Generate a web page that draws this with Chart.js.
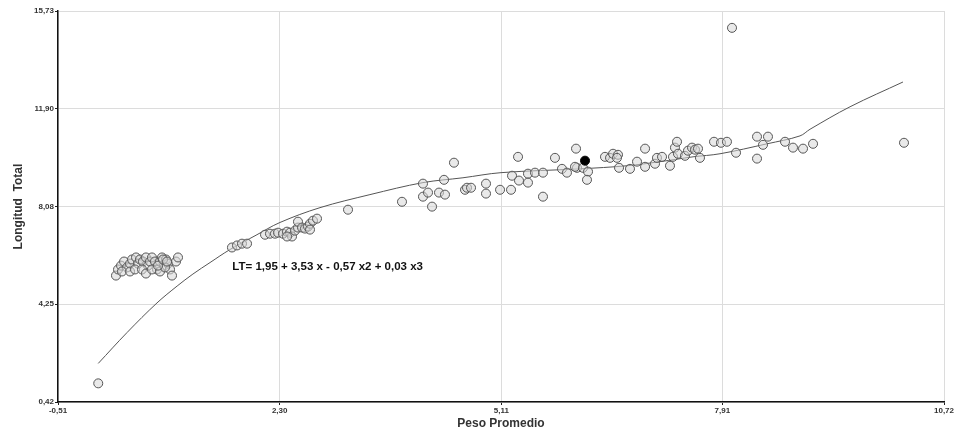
<!DOCTYPE html>
<html>
<head>
<meta charset="utf-8">
<script src="https://cdn.jsdelivr.net/npm/chart.js@4.4.1/dist/chart.umd.min.js"></script>
<style>
  html, body { margin: 0; padding: 0; background: #ffffff; }
  #wrap { width: 956px; height: 434px; }
</style>
</head>
<body>
<div id="wrap"><canvas id="grafico" width="956" height="434"></canvas></div>
<script>
// Peso promedio (x) y longitud total (y) de cada ejemplar observado
const pesoPromedio = [
  0.00,
  0.225, 0.251, 0.289, 0.327, 0.365, 0.403, 0.428, 0.479, 0.504, 0.529,
  0.567, 0.605, 0.631, 0.656, 0.681, 0.719, 0.745, 0.783, 0.808, 0.834,
  0.859, 0.884, 0.910, 0.935, 0.986, 1.011, 0.301, 0.403, 0.466, 0.555,
  0.605, 0.681, 0.783, 0.846, 0.758, 0.821, 0.872,
  1.695, 1.759, 1.822, 1.886,
  2.114, 2.177, 2.240, 2.279, 2.342, 2.393, 2.431, 2.456, 2.494, 2.532,
  2.532, 2.583, 2.621, 2.659, 2.684, 2.722, 2.773, 2.684, 2.393, 3.166,
  3.850, 4.116, 4.116, 4.180, 4.231, 4.319, 4.395, 4.383, 4.509, 4.649,
  4.674, 4.725, 4.915, 4.915, 5.093, 5.232, 5.245, 5.321, 5.333, 5.447,
  5.447, 5.536, 5.637, 5.637, 5.789, 5.878, 5.941, 6.056, 6.068,
  6.043, 6.144, 6.208, 6.195, 6.423, 6.487, 6.525, 6.588, 6.575, 6.601,
  6.740, 6.829, 6.931, 6.931, 7.057, 7.082, 7.146, 7.247, 7.285, 7.310,
  7.336, 7.348, 7.437, 7.475, 7.526, 7.564, 7.602, 7.627,
  7.805, 7.893, 7.969, 8.084, 8.350, 8.489, 8.426, 8.350, 8.705, 8.806,
  8.933, 9.060, 8.033, 10.213
];
const longitudTotal = [
  1.15,
  5.37, 5.61, 5.76, 5.92, 5.69, 5.84, 6.00, 6.08, 5.84, 6.00,
  5.92, 6.08, 5.76, 5.92, 6.08, 5.92, 5.61, 5.92, 6.08, 5.76,
  6.00, 5.84, 5.61, 5.37, 5.92, 6.08, 5.53, 5.53, 5.61, 5.61,
  5.45, 5.61, 5.53, 5.69, 5.76, 6.00, 5.92,
  6.47, 6.55, 6.62, 6.62,
  6.97, 7.01, 7.01, 7.05, 7.01, 7.09, 7.05, 6.90, 7.13, 7.25,
  7.48, 7.25, 7.21, 7.29, 7.40, 7.52, 7.60, 7.17, 6.90, 7.95,
  8.26, 8.97, 8.46, 8.62, 8.07, 8.62, 8.54, 9.12, 9.79, 8.73,
  8.81, 8.81, 8.97, 8.58, 8.73, 8.73, 9.28, 10.02, 9.09, 9.36,
  9.01, 9.40, 9.40, 8.46, 9.98, 9.55, 9.40, 10.34, 9.59,
  9.63, 9.59, 9.44, 9.12, 10.02, 9.98, 10.14, 10.10, 9.98, 9.59,
  9.55, 9.83, 10.34, 9.63, 9.75, 9.98, 10.02, 9.67, 10.02, 10.38,
  10.61, 10.14, 10.06, 10.26, 10.38, 10.30, 10.34, 9.98,
  10.61, 10.57, 10.61, 10.18, 10.81, 10.81, 10.49, 9.95, 10.61, 10.38,
  10.34, 10.53, 15.07, 10.57
];

// Ejemplar destacado (relleno negro)
const pesoDestacado = [6.17];
const longitudDestacada = [9.87];

// Curva de ajuste
const curvaPeso = [0.00, 0.365, 0.745, 1.00, 1.20, 1.417, 1.670, 2.000, 2.304, 2.811, 3.444,
                   4.116, 4.623, 5.105, 6.107, 6.702, 7.120, 7.539, 7.881, 8.477, 8.895,
                   9.022, 9.529, 10.20];
const curvaLongitud = [1.93, 3.14, 4.30, 4.96, 5.43, 5.88, 6.39, 6.95, 7.45, 8.03, 8.54,
                       9.01, 9.20, 9.40, 9.55, 9.67, 9.83, 10.02, 10.14, 10.53, 10.84,
                       11.10, 11.98, 12.95];

// Marcas de los ejes
const ticksPeso = [-0.51, 2.30, 5.11, 7.91, 10.72];
const ticksLongitud = [0.42, 4.25, 8.08, 11.90, 15.73];

const ecuacion = 'LT= 1,95 + 3,53 x - 0,57 x2 + 0,03 x3';
const ecuacionPos = { x: 1.70, y: 5.72 };

const fmt = v => Number(v).toFixed(2).replace('.', ',');

const puntos = pesoPromedio.map((x, i) => ({ x, y: longitudTotal[i] }));
const destacados = pesoDestacado.map((x, i) => ({ x, y: longitudDestacada[i] }));
const curva = curvaPeso.map((x, i) => ({ x, y: curvaLongitud[i] }));

const tickFont = { family: "'Liberation Sans Narrow', 'Liberation Sans', Arial, sans-serif", size: 8, weight: 'bold' };
const titleFont = { family: "'Liberation Sans', Arial, sans-serif", size: 12, weight: 'bold' };

// Texto de la ecuación, anclado en coordenadas de datos
const ecuacionPlugin = {
  id: 'ecuacion',
  afterDatasetsDraw(chart) {
    const { ctx, scales } = chart;
    const px = scales.x.getPixelForValue(ecuacionPos.x);
    const py = scales.y.getPixelForValue(ecuacionPos.y);
    ctx.save();
    ctx.font = "bold 11.5px 'Liberation Sans', Arial, sans-serif";
    ctx.fillStyle = '#111';
    ctx.textAlign = 'left';
    ctx.textBaseline = 'middle';
    ctx.fillText(ecuacion, px, py);
    ctx.restore();
  }
};

new Chart(document.getElementById('grafico'), {
  type: 'scatter',
  data: {
    datasets: [
      {
        type: 'line',
        data: curva,
        borderColor: '#555',
        borderWidth: 1,
        pointRadius: 0,
        tension: 0.35,
        fill: false,
        order: 3
      },
      {
        data: puntos,
        pointRadius: 4.5,
        pointBackgroundColor: 'rgba(215,215,215,0.55)',
        pointBorderColor: '#555',
        pointBorderWidth: 1,
        order: 2
      },
      {
        data: destacados,
        pointRadius: 4.5,
        pointBackgroundColor: '#000',
        pointBorderColor: '#000',
        pointBorderWidth: 1,
        order: 1
      }
    ]
  },
  options: {
    responsive: false,
    animation: false,
    layout: { padding: { top: 11, right: 12, left: 0, bottom: 0 } },
    plugins: { legend: { display: false }, tooltip: { enabled: false } },
    scales: {
      x: {
        type: 'linear',
        min: ticksPeso[0],
        max: ticksPeso[ticksPeso.length - 1],
        afterBuildTicks: s => { s.ticks = ticksPeso.map(v => ({ value: v })); },
        afterFit: s => { s.height = 32; },
        ticks: { font: tickFont, color: '#333', padding: 1, maxRotation: 0, autoSkip: false, callback: v => fmt(v) },
        grid: { color: '#dcdcdc', lineWidth: 1, tickLength: 3, tickColor: '#222' },
        border: { color: '#111', width: 1.5 },
        title: { display: true, text: 'Peso Promedio', font: titleFont, color: '#333', padding: { top: 0, bottom: 3 } }
      },
      y: {
        type: 'linear',
        min: ticksLongitud[0],
        max: ticksLongitud[ticksLongitud.length - 1],
        afterBuildTicks: s => { s.ticks = ticksLongitud.map(v => ({ value: v })); },
        afterFit: s => { s.width = 58; },
        ticks: { font: tickFont, color: '#333', padding: 1, autoSkip: false, callback: v => fmt(v) },
        grid: { color: '#dcdcdc', lineWidth: 1, tickLength: 3, tickColor: '#222' },
        border: { color: '#111', width: 1.5 },
        title: { display: true, text: 'Longitud  Total', font: titleFont, color: '#333', padding: { top: 11, bottom: 0 } }
      }
    }
  },
  plugins: [ecuacionPlugin]
});
</script>
</body>
</html>
